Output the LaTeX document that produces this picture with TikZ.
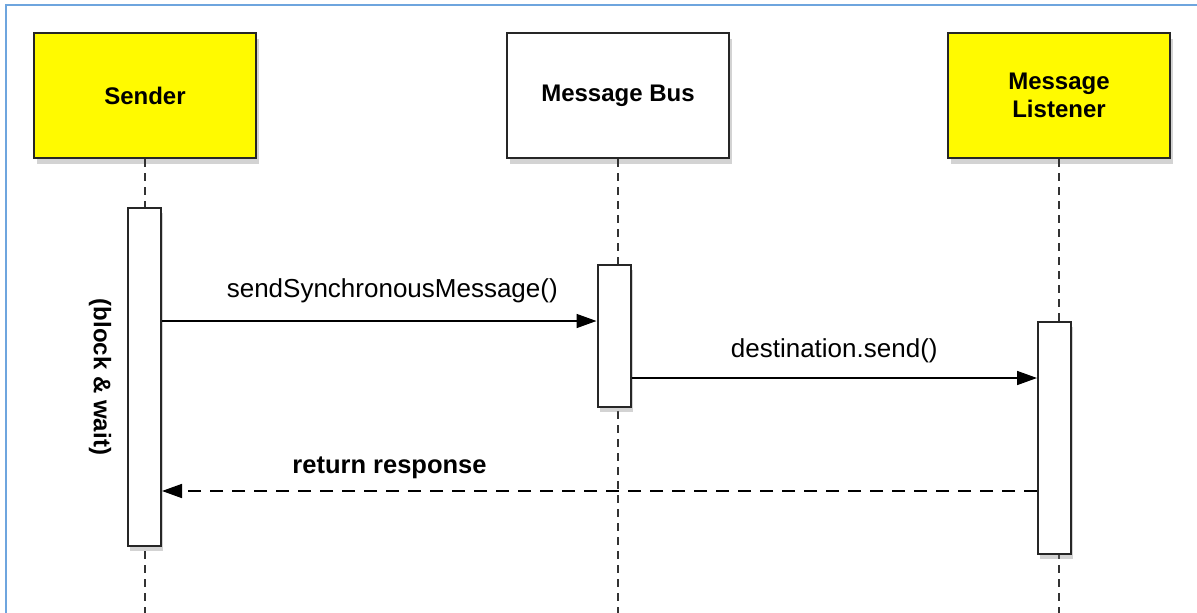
\documentclass[tikz,border=0pt]{standalone}
\usepackage{fontspec}
\setmainfont{Liberation Sans}
\usetikzlibrary{arrows.meta,shadows}

\definecolor{frameblue}{RGB}{110,165,222}
\definecolor{actoryellow}{RGB}{255,250,0}

\tikzset{
  actor/.style={draw=black!85, line width=2pt, minimum width=222pt, minimum height=125pt,
    align=center, font=\fontsize{24}{28}\selectfont\bfseries,
    drop shadow={opacity=0.35, shadow xshift=3pt, shadow yshift=-6pt}},
  activation/.style={draw=black!85, fill=white, line width=2pt, minimum width=33pt,
    drop shadow={opacity=0.35, shadow xshift=2pt, shadow yshift=-5pt}},
  lifeline/.style={black!80, line width=1.6pt, dash pattern=on 8pt off 6pt},
  msg/.style={line width=1.6pt, -{Triangle[length=20pt,width=14pt]}},
  reply/.style={msg, dash pattern=on 13pt off 9pt},
  msglabel/.style={font=\fontsize{26}{28}\selectfont},
  notelabel/.style={font=\fontsize{24}{28}\selectfont\bfseries}
}

\begin{document}
\begin{tikzpicture}[x=1pt, y=-1pt]

  \useasboundingbox (0,0) rectangle (1197,613);

  % frame
  \draw[frameblue, line width=2pt] (5.5,613) -- (5.5,4.5) -- (1197,4.5);

  % Define actors
  \node[actor, fill=actoryellow] (sender)   at (145,95.5) {Sender};
  \node[actor, fill=white]       (bus)      at (618,95.5) {Message Bus};
  \node[actor, fill=actoryellow] (listener) at (1059,95.5) {Message\\Listener};

  % Lifelines
  \draw[lifeline] (sender.south)   -- (sender.south |- 0,613);
  \draw[lifeline] (bus.south)      -- (bus.south |- 0,613);
  \draw[lifeline] (listener.south) -- (listener.south |- 0,613);

  % Activations
  \node[activation, minimum height=338pt] (sact) at (144.5,377) {};
  \node[activation, minimum height=142pt] (bact) at (614,336)   {};
  \node[activation, minimum height=232pt] (lact) at (1054.5,438) {};

  % Messages
  \draw[msg] (sact.east |- 0,321) -- node[msglabel, above=14pt, pos=0.53] (m1) {sendSynchronousMessage()} (bact.west |- 0,321);
  \draw[msg] (bact.east |- 0,378) -- node[msglabel, above=11pt, pos=0.5] (m2) {destination.send()} (lact.west |- 0,378);
  \draw[reply] (lact.west |- 0,491) -- node[notelabel, font=\fontsize{25.5}{28}\selectfont\bfseries, above=8pt, pos=0.74] (m3) {return response} (sact.east |- 0,491);

  % Note
  \node[notelabel, rotate=-90] (wait) at (100,377) {(block \& wait)};

\end{tikzpicture}
\end{document}
